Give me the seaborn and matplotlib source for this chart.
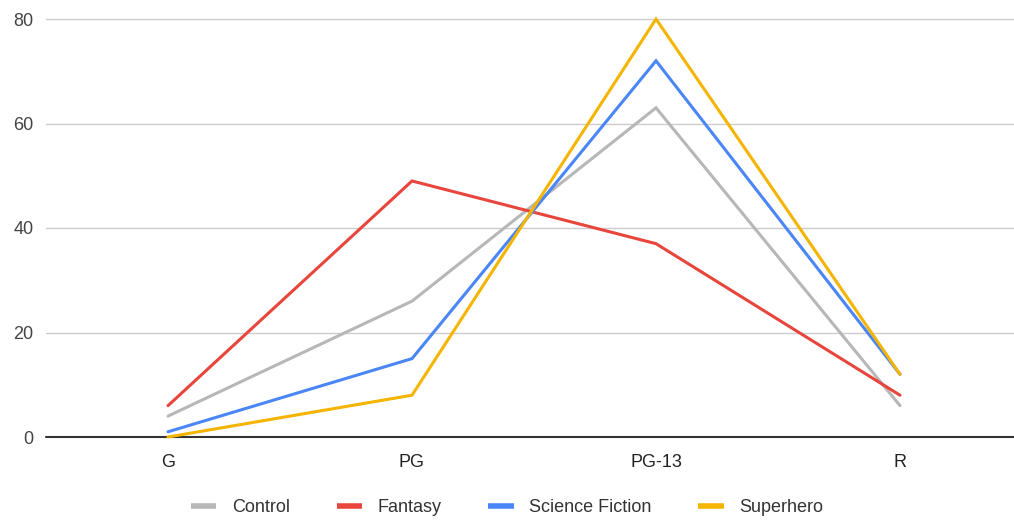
import matplotlib
matplotlib.use("Agg")
import matplotlib.pyplot as plt
import seaborn as sns
import pandas as pd
from matplotlib.lines import Line2D

ratings = ["G", "PG", "PG-13", "R"]
control = [4, 26, 63, 6]
fantasy = [6, 49, 37, 8]
science_fiction = [1, 15, 72, 12]
superhero = [0, 8, 80, 12]
series_names = ["Control", "Fantasy", "Science Fiction", "Superhero"]
colors = ["#b7b7b7", "#e8453c", "#4a86f7", "#f4b400"]
y_ticks = [0, 20, 40, 60, 80]

rows = []
for name, vals in zip(series_names, [control, fantasy, science_fiction, superhero]):
    for r, v in zip(ratings, vals):
        rows.append({"Rating": r, "Value": v, "Series": name})
df = pd.DataFrame(rows)

sns.set_theme(style="white")
plt.rcParams["font.family"] = ["Liberation Sans", "DejaVu Sans"]

fig = plt.figure(figsize=(10.14, 5.22), dpi=100)
ax = fig.add_axes([46 / 1014, (522 - 437) / 522, 1 - 46 / 1014, (437 - 19) / 522])

sns.lineplot(data=df, x="Rating", y="Value", hue="Series", hue_order=series_names,
             palette=colors, linewidth=2.2, ax=ax, legend=False, sort=False)
for ln in ax.lines:
    ln.set_clip_on(False)
    ln.set_solid_joinstyle("miter")

ax.set_xlim(-0.5, 3 + 114 / 244)
ax.set_ylim(0, 80)
ax.set_yticks(y_ticks)
ax.set_xticks(range(len(ratings)))
ax.set_xticklabels(ratings)
for y in y_ticks[1:]:
    ax.axhline(y, color="#cccccc", lw=1, zorder=0, clip_on=False)
ax.axhline(0, color="#333333", lw=1.5, zorder=1, clip_on=False)
for s in ax.spines.values():
    s.set_visible(False)
ax.set_xlabel("")
ax.set_ylabel("")
ax.tick_params(axis="y", length=0, pad=9, labelsize=13, labelcolor="#444444")
ax.tick_params(axis="x", length=0, pad=12, labelsize=13, labelcolor="#222222")

handles = [Line2D([0], [0], color=c, lw=4.0, solid_capstyle="butt") for c in colors]
fig.legend(handles, series_names, loc="center", bbox_to_anchor=(0.5, (522 - 508) / 522),
           ncol=4, frameon=False, fontsize=13, handlelength=1.4, handletextpad=0.85,
           columnspacing=2.6, labelcolor="#333333")

fig.savefig("out.png", dpi=100)
